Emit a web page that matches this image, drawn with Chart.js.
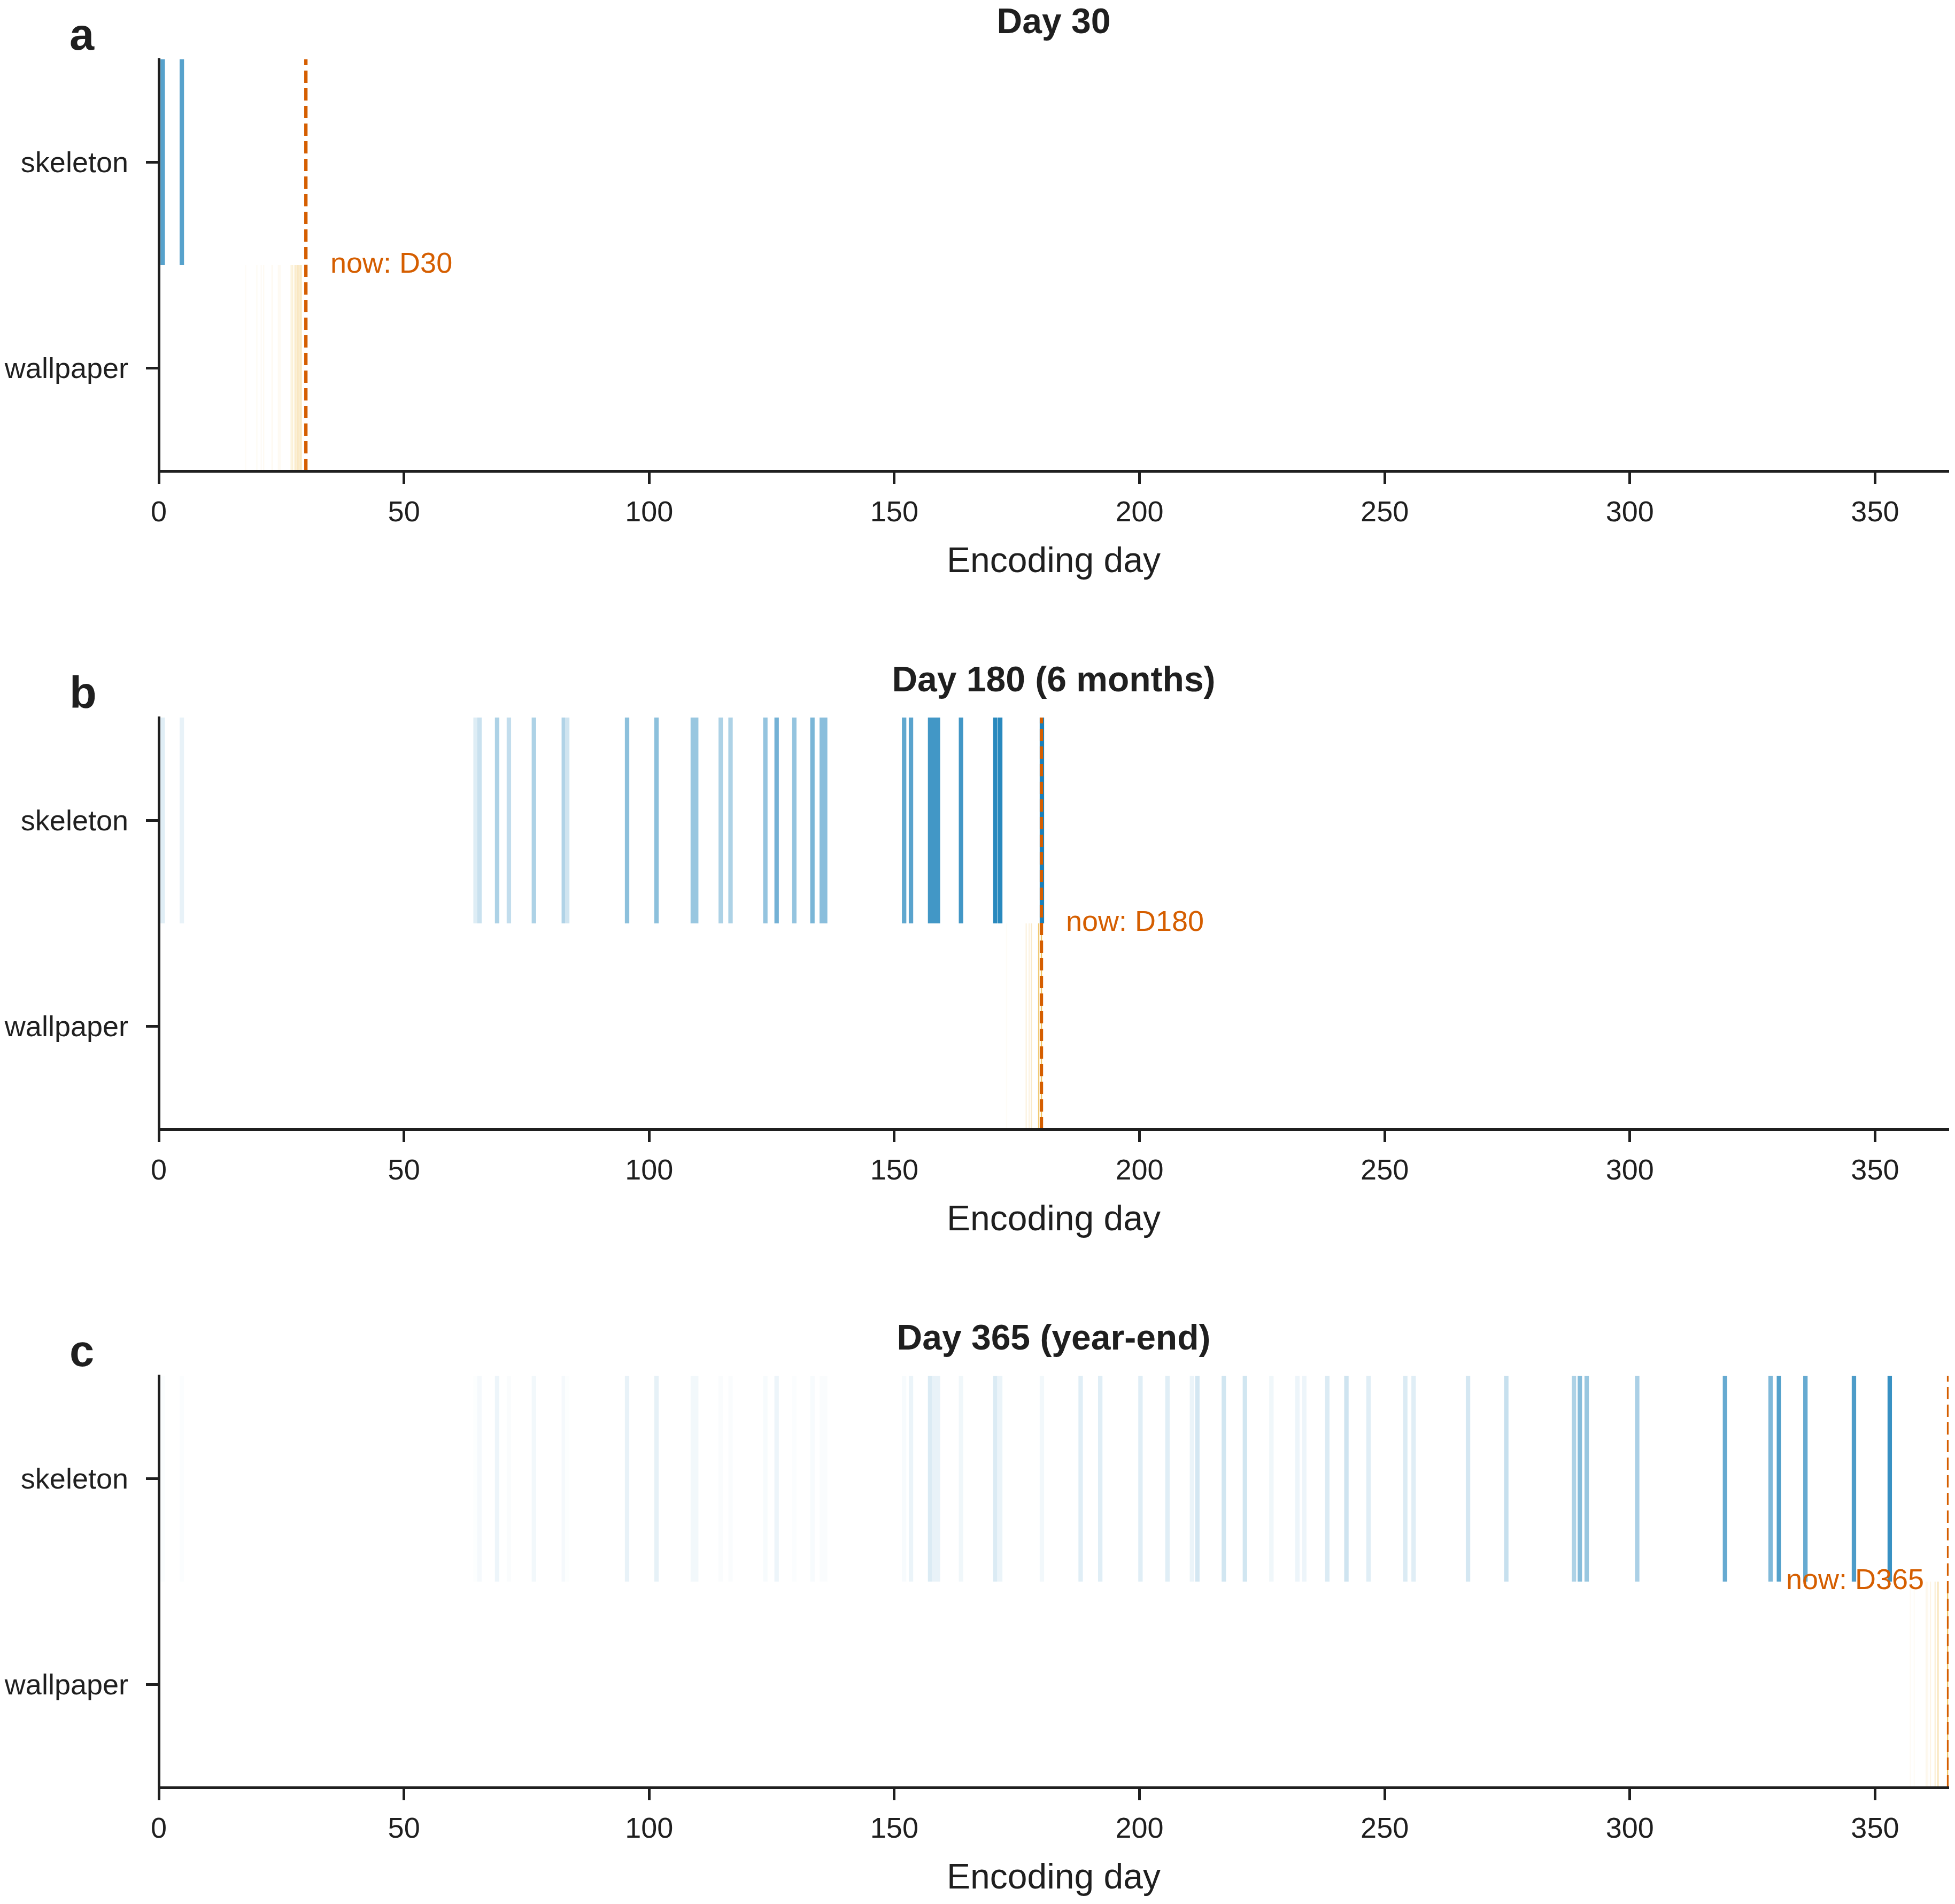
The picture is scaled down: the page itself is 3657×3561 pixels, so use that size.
<!DOCTYPE html>
<html>
<head>
<meta charset="utf-8">
<title>Encoding day timelines</title>
<script src="https://cdn.jsdelivr.net/npm/chart.js@4.4.1/dist/chart.umd.min.js"></script>
<style>
    html, body { margin: 0; padding: 0; background: #fff; overflow: hidden; }
    body { width: 3657px; height: 3561px; position: relative; }
    canvas { position: absolute; left: 0; }
</style>
</head>
<body>
<canvas id="panel-a" width="3657" height="1231" style="top:0px"></canvas>
<canvas id="panel-b" width="3657" height="1231" style="top:1231px"></canvas>
<canvas id="panel-c" width="3657" height="1231" style="top:2462px"></canvas>
<script>
// ---- data ----
const rows = ['skeleton', 'wallpaper'];
const xTickValues = [0, 50, 100, 150, 200, 250, 300, 350];
const panelLetters = ['a', 'b', 'c'];
const panelTitles = ['Day 30', 'Day 180 (6 months)', 'Day 365 (year-end)'];
const nowDays = [30, 180, 365];

// skeleton encoding days (shared by all panels)
const skeletonDays = [
    0.8, 4.7, 64.6, 65.4, 69.0, 71.4, 76.5, 82.6, 83.3, 95.5,
    101.5, 108.9, 109.6, 114.6, 116.6, 123.7, 126.0, 129.6, 133.3, 135.2,
    135.9, 152.0, 153.4, 157.3, 158.1, 158.9, 163.6, 170.6, 171.6, 180.1,
    188.0, 192.0, 200.2, 205.7, 210.7, 211.8, 217.2, 221.5, 226.9, 232.2,
    233.6, 238.3, 242.2, 246.7, 254.2, 255.9, 267.0, 274.8, 288.6, 289.8,
    291.2, 301.5, 319.4, 328.7, 330.4, 335.8, 345.7, 353.0
];
// shading (0..1) of each skeleton day, per panel
const skeletonShadeD30 = [0.66, 0.66];
const skeletonShadeD180 = [
    0.12, 0.09, 0.13, 0.21, 0.32, 0.24, 0.32, 0.31, 0.19, 0.45,
    0.45, 0.40, 0.40, 0.32, 0.32, 0.42, 0.55, 0.42, 0.52, 0.46,
    0.46, 0.62, 0.65, 0.74, 0.74, 0.74, 0.74, 0.84, 0.84, 0.90
];
const skeletonShadeD365 = [
    0.015, 0.015, 0.01, 0.04, 0.07, 0.02, 0.05, 0.04, 0.01, 0.09,
    0.10, 0.05, 0.05, 0.02, 0.02, 0.03, 0.07, 0.015, 0.03, 0.02,
    0.02, 0.03, 0.08, 0.14, 0.09, 0.09, 0.06, 0.14, 0.08, 0.05,
    0.12, 0.12, 0.12, 0.12, 0.08, 0.17, 0.18, 0.18, 0.06, 0.07,
    0.07, 0.14, 0.19, 0.12, 0.14, 0.12, 0.17, 0.22, 0.32, 0.47,
    0.40, 0.33, 0.60, 0.50, 0.67, 0.60, 0.70, 0.78
];

// wallpaper encodings, only the recent ones are visible
const wallpaperDaysD30 = [17.7, 20.0, 20.9, 21.4, 23.1, 24.4, 24.7, 27.0, 27.3, 27.8, 28.2, 28.6, 29.0];
const wallpaperShadeD30 = [0.03, 0.04, 0.04, 0.05, 0.06, 0.05, 0.06, 0.14, 0.16, 0.25, 0.28, 0.30, 0.35];
const wallpaperDaysD180 = [172.9, 176.9, 177.5, 177.95, 179.45, 180.0];
const wallpaperShadeD180 = [0.03, 0.12, 0.12, 0.22, 0.55, 0.60];
const wallpaperDaysD365 = [357.2, 358.0, 360.45, 360.75, 361.3, 362.25, 362.85, 364.8];
const wallpaperShadeD365 = [0.04, 0.03, 0.08, 0.06, 0.10, 0.15, 0.30, 0.60];

// ---- style ----
const FONT = "'Liberation Sans', Arial, Helvetica, sans-serif";
const INK = '#1f1f1f';
const NOW_COLOR = '#d55e00';
const SKELETON_RGB = [0, 114, 178];
const WALLPAPER_RGB = [230, 159, 0];

Chart.defaults.font.family = FONT;
Chart.defaults.color = INK;

const tint = (rgb, a) => {
    const mix = (c) => Math.round(255 - (255 - c) * a);
    return `rgb(${mix(rgb[0])}, ${mix(rgb[1])}, ${mix(rgb[2])})`;
};

// letter + "now" text, placed with the chart's own scales
const annotate = {
    id: 'annotate',
    afterDraw(chart, args, opts) {
        const { ctx, chartArea, scales } = chart;
        ctx.save();
        ctx.fillStyle = INK;
        ctx.font = `bold 83px ${FONT}`;
        ctx.textAlign = 'left';
        ctx.textBaseline = 'alphabetic';
        ctx.fillText(opts.letter, 130, chartArea.top - 18);

        const yMid = (scales.y.getPixelForValue(0) + scales.y.getPixelForValue(1)) / 2;
        ctx.fillStyle = NOW_COLOR;
        ctx.font = `54px ${FONT}`;
        ctx.textAlign = opts.align;
        ctx.fillText('now: D' + opts.now, scales.x.getPixelForValue(opts.now + opts.shift), yMid + 14);
        ctx.restore();
    }
};

const axisLine = { display: true, width: 5, color: INK, z: 1 };
const tickMarks = { drawOnChartArea: false, drawTicks: true, tickLength: 24, tickWidth: 5, tickColor: INK, offset: false };

const drawPanel = (canvasId, index, skeletonShade, wallpaperDays, wallpaperShade, shift, align) => {
    const now = nowDays[index];
    return new Chart(document.getElementById(canvasId), {
        type: 'bar',
        plugins: [annotate],
        data: {
            labels: rows,
            datasets: [
                {
                    type: 'line',
                    label: 'now',
                    data: [{ x: now, y: 0 }, { x: now, y: 1 }],
                    xAxisID: 'x',
                    yAxisID: 'yNow',
                    borderColor: NOW_COLOR,
                    borderWidth: 6.25,
                    borderDash: [23, 10],
                    pointRadius: 0,
                    order: -1,
                },
                {
                    label: rows[0],
                    indexAxis: 'y',
                    grouped: false,
                    data: skeletonShade.map((a, k) => ({ y: rows[0], x: [skeletonDays[k] - 0.45, skeletonDays[k] + 0.45] })),
                    backgroundColor: skeletonShade.map((a) => tint(SKELETON_RGB, a)),
                    barPercentage: 1,
                    categoryPercentage: 1,
                    inflateAmount: 0,
                },
                {
                    label: rows[1],
                    indexAxis: 'y',
                    grouped: false,
                    data: wallpaperShade.map((a, k) => ({ y: rows[1], x: [wallpaperDays[k] - 0.13, wallpaperDays[k] + 0.13] })),
                    backgroundColor: wallpaperShade.map((a) => tint(WALLPAPER_RGB, a)),
                    barPercentage: 1,
                    categoryPercentage: 1,
                    inflateAmount: 0,
                },
            ],
        },
        options: {
            responsive: false,
            devicePixelRatio: 1,
            animation: false,
            events: [],
            layout: { padding: { top: 0, right: 12, bottom: 146, left: 0 } },
            plugins: {
                legend: { display: false },
                tooltip: { enabled: false },
                title: {
                    display: true,
                    text: panelTitles[index],
                    fullSize: false,
                    color: INK,
                    font: { size: 66, weight: 'bold', lineHeight: 1.2 },
                    padding: { top: 4, bottom: 27.8 },
                },
                annotate: { letter: panelLetters[index], now, shift, align },
            },
            scales: {
                x: {
                    type: 'linear',
                    position: 'bottom',
                    offset: false,
                    min: 0,
                    max: 365,
                    afterBuildTicks: (scale) => { scale.ticks = xTickValues.map((value) => ({ value })); },
                    afterFit: (scale) => { scale.height = 204; },
                    ticks: { font: { size: 54 }, padding: 23, maxRotation: 0, color: INK },
                    grid: tickMarks,
                    border: axisLine,
                    title: { display: true, text: 'Encoding day', color: INK, font: { size: 66, lineHeight: 1 }, padding: 0 },
                },
                y: {
                    type: 'category',
                    position: 'left',
                    labels: rows,
                    offset: true,
                    afterFit: (scale) => { scale.width = 297; },
                    ticks: { font: { size: 54 }, padding: 33, labelOffset: 4, color: INK },
                    grid: tickMarks,
                    border: axisLine,
                },
                yNow: { type: 'linear', axis: 'y', position: 'right', display: false, min: 0, max: 1 },
            },
        },
    });
};

drawPanel('panel-a', 0, skeletonShadeD30, wallpaperDaysD30, wallpaperShadeD30, 5, 'left');
drawPanel('panel-b', 1, skeletonShadeD180, wallpaperDaysD180, wallpaperShadeD180, 5, 'left');
drawPanel('panel-c', 2, skeletonShadeD365, wallpaperDaysD365, wallpaperShadeD365, -5, 'right');
</script>
</body>
</html>
